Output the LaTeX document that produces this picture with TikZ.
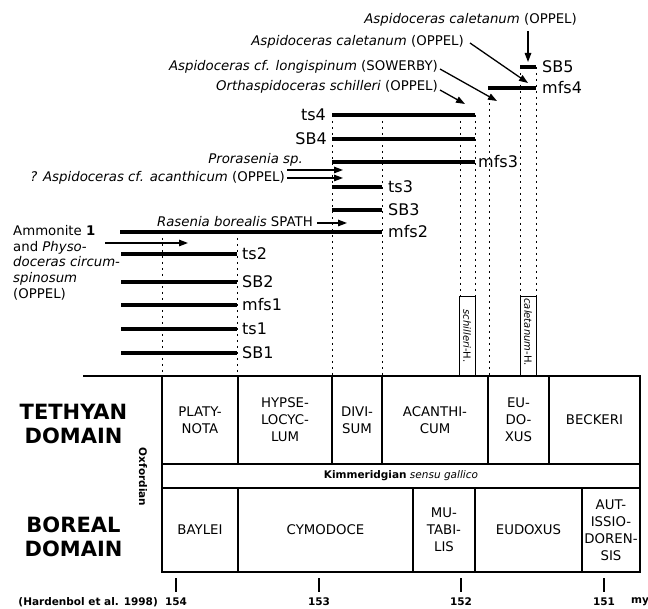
\documentclass[tikz,border=0pt]{standalone}
\usepackage{fontspec}
\setmainfont{DejaVu Sans}
\usetikzlibrary{arrows.meta}
\begin{document}
\begin{tikzpicture}[x=1pt,y=-1pt,
  bar/.style={line width=4pt},
  dotline/.style={line width=1pt, dash pattern=on 2pt off 4pt},
  arr/.style={line width=1.3pt, -{Triangle[length=9pt,width=6.5pt]}},
  seq/.style={font=\fontsize{16}{19}\selectfont, inner sep=0pt},
  spec/.style={font=\fontsize{13.3}{16}\selectfont, inner sep=0pt},
  cell/.style={font=\fontsize{13.3}{17}\selectfont, align=center, inner sep=0pt},
  tab/.style={line width=2pt},
  dom/.style={font=\fontsize{21}{24}\selectfont\bfseries, align=center, inner sep=0pt},
  small/.style={font=\fontsize{10.5}{12}\selectfont, inner sep=0pt},
  hbox/.style={draw, line width=1pt},
  hlabel/.style={font=\fontsize{10}{12}\selectfont, inner sep=0pt, rotate=-90}]
\useasboundingbox (0,0) rectangle (648,609);

% ---------- dotted verticals ----------
\draw[dotline] (162,232) -- (162,376);
\draw[dotline] (237,232) -- (237,376);
\draw[dotline] (332,115) -- (332,376);
\draw[dotline] (382,115) -- (382,376);
\draw[dotline] (460,115) -- (460,297);
\draw[dotline] (475,115) -- (475,297);
\draw[dotline] (489,103) -- (489,376);
\draw[dotline] (520,67) -- (520,297);
\draw[dotline] (536,67) -- (536,297);

% ---------- sequence bars ----------
\draw[bar] (520,67) -- (536,67);
\draw[bar] (488,88) -- (536,88);
\draw[bar] (332,115) -- (475,115);
\draw[bar] (332,139) -- (475,139);
\draw[bar] (332,162) -- (475,162);
\draw[bar] (332,187) -- (382,187);
\draw[bar] (332,210) -- (382,210);
\draw[bar] (120,232) -- (382,232);
\draw[bar] (121,254) -- (237,254);
\draw[bar] (121,282) -- (237,282);
\draw[bar] (121,305) -- (237,305);
\draw[bar] (121,329) -- (237,329);
\draw[bar] (121,353) -- (237,353);

% ---------- sequence labels ----------
\node[seq, anchor=west] (lSBv) at (542,67) {SB5};
\node[seq, anchor=west] (lmfsiv) at (542,88) {mfs4};
\node[seq, anchor=east] (ltsiv) at (326,115) {ts4};
\node[seq, anchor=east] (lSBiv) at (327,139) {SB4};
\node[seq, anchor=west] (lmfsiii) at (478,162) {mfs3};
\node[seq, anchor=west] (ltsiii) at (388,187) {ts3};
\node[seq, anchor=west] (lSBiii) at (388,210) {SB3};
\node[seq, anchor=west] (lmfsii) at (388,232) {mfs2};
\node[seq, anchor=west] (ltsii) at (242,254) {ts2};
\node[seq, anchor=west] (lSBii) at (242,282) {SB2};
\node[seq, anchor=west] (lmfsi) at (242,305) {mfs1};
\node[seq, anchor=west] (ltsi) at (242,329) {ts1};
\node[seq, anchor=west] (lSBi) at (242,353) {SB1};

% ---------- species labels ----------
\node[spec, anchor=east] (calA) at (577,20) {\textit{Aspidoceras caletanum} (OPPEL)};
\node[spec, anchor=east] (calB) at (464,42) {\textit{Aspidoceras caletanum} (OPPEL)};
\node[spec, anchor=east] (longi) at (438,67) {\textit{Aspidoceras cf. longispinum} (SOWERBY)};
\node[spec, anchor=east] (schil) at (438,87) {\textit{Orthaspidoceras schilleri} (OPPEL)};
\node[spec, anchor=east] (pror) at (303,160) {\textit{Prorasenia sp.}};
\node[spec, anchor=east] (acan) at (285,178) {\textit{? Aspidoceras cf. acanthicum} (OPPEL)};
\node[spec, anchor=east] (rase) at (313,222) {\textit{Rasenia borealis} SPATH};
\node[spec, anchor=north west, align=left, font=\fontsize{13.3}{15.8}\selectfont] (ammo) at (13,225)
  {Ammonite \textbf{1}\\and \textit{Physo-}\\\textit{doceras circum-}\\\textit{spinosum}\\(OPPEL)};

% ---------- arrows ----------
\coordinate (tA) at (528,62);
\coordinate (sA) at (528,31);
\coordinate (tB) at (528,83);
\coordinate (tL) at (497,101);
\coordinate (tS) at (465,104);
\coordinate (sP) at (287,170);
\coordinate (tP) at (343,170);
\coordinate (tAc) at (343,178);
\coordinate (tR) at (347,223);
\coordinate (sM) at (105,243);
\coordinate (tM) at (188,243);
\draw[arr] (sA) -- (tA);
\draw[arr] ([xshift=6pt,yshift=-1pt]calB.east) -- (tB);
\draw[arr] ([xshift=2pt,yshift=-2pt]longi.east) -- (tL);
\draw[arr] ([xshift=2pt,yshift=-3pt]schil.east) -- (tS);
\draw[arr] (sP) -- (tP);
\draw[arr] ([xshift=2pt]acan.east) -- (tAc);
\draw[arr] ([xshift=4pt,yshift=-1pt]rase.east) -- (tR);
\draw[arr] (sM) -- (tM);

% ---------- horizon boxes ----------
\draw[hbox] (459,297) rectangle (475,376);
\draw[hbox] (520,297) rectangle (536,376);
\node[hlabel] (hschil) at (467,336) {\textit{schilleri}-H.};
\node[hlabel] (hcalet) at (528,332) {\textit{caletanum}-H.};

% ---------- table ----------
\draw[tab] (83,376) -- (640,376);
\draw[tab] (162,376) rectangle (640,572);
\draw[tab] (162,464) -- (640,464);
\draw[tab] (162,488) -- (640,488);
\foreach \x in {238,332,382,488,549} \draw[tab] (\x,376) -- (\x,464);
\foreach \x in {238,413,475,582} \draw[tab] (\x,488) -- (\x,572);

\node[cell] (tPl) at (200,420) {PLATY-\\NOTA};
\node[cell] (tHy) at (285,420) {HYPSE-\\LOCYC-\\LUM};
\node[cell] (tDi) at (357,420) {DIVI-\\SUM};
\node[cell] (tAc2) at (435,420) {ACANTHI-\\CUM};
\node[cell] (tEu) at (518.5,420) {EU-\\DO-\\XUS};
\node[cell] (tBe) at (594.5,420) {BECKERI};
\node[small] (kim) at (401,476) {\textbf{Kimmeridgian} \textit{sensu gallico}};
\node[cell] (bBa) at (200,530) {BAYLEI};
\node[cell] (bCy) at (325.5,530) {CYMODOCE};
\node[cell] (bMu) at (444,530) {MU-\\TABI-\\LIS};
\node[cell] (bEu) at (528.5,530) {EUDOXUS};
\node[cell] (bAu) at (611,530) {AUT-\\ISSIO-\\DOREN-\\SIS};

\node[dom] (teth) at (73.5,424) {TETHYAN\\DOMAIN};
\node[dom] (bore) at (73.5,537) {BOREAL\\DOMAIN};
\node[small, font=\fontsize{10.5}{12}\selectfont\bfseries, rotate=-90] (oxf) at (143,477) {Oxfordian};

% ---------- time axis ----------
\foreach \x/\n in {176/154,319/153,461/152,604/151} {
  \draw[line width=2.5pt] (\x,578) -- (\x,592);
  \node[small, font=\fontsize{10.5}{12}\selectfont\bfseries] (ax\n) at (\x,602) {\n};
}
\node[small, font=\fontsize{10.5}{12}\selectfont\bfseries, anchor=east] (hard) at (158,602) {(Hardenbol et al. 1998)};
\node[small, font=\fontsize{10.5}{12}\selectfont\bfseries, anchor=west] (my) at (631,602) {my};
\end{tikzpicture}
\end{document}
